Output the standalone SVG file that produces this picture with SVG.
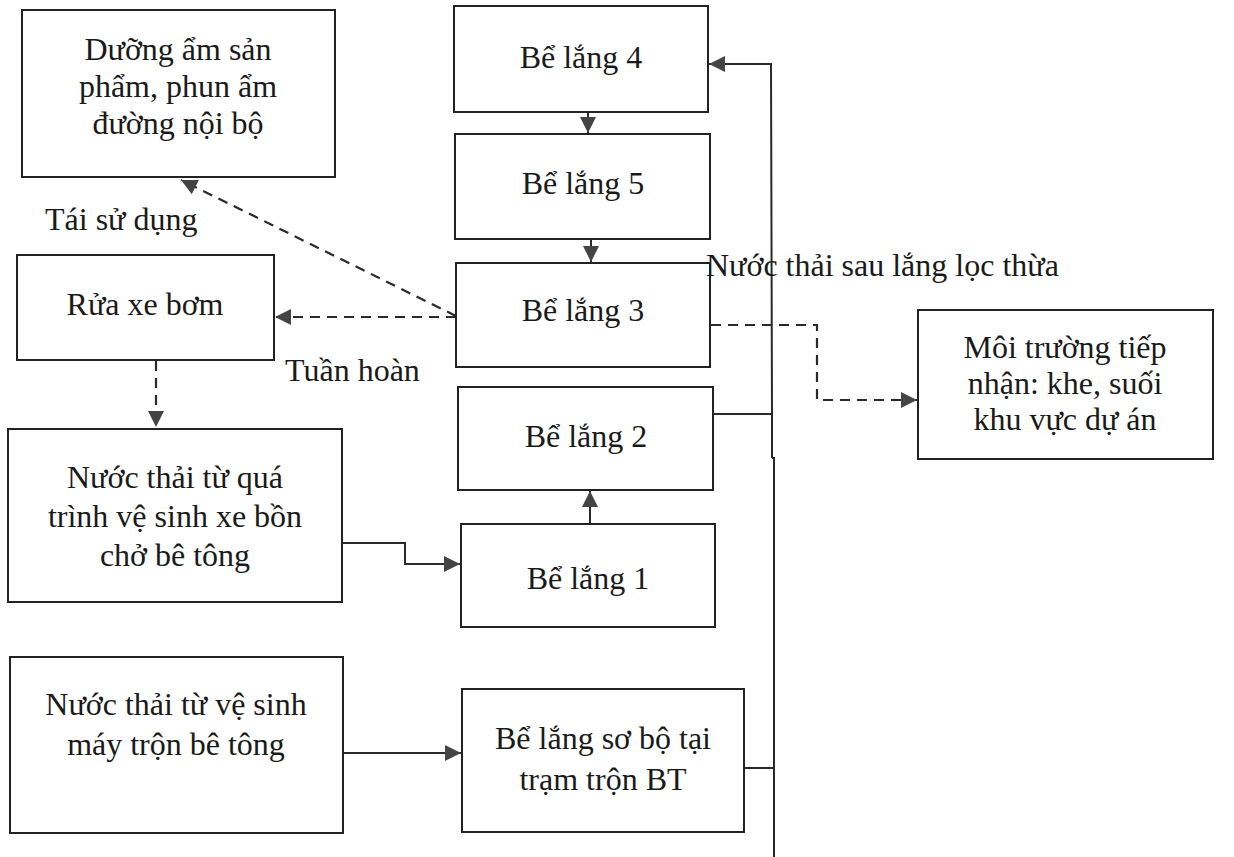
<svg xmlns="http://www.w3.org/2000/svg" width="1234" height="857" viewBox="0 0 1234 857">
<style>
.box{fill:#fff;stroke:#222;stroke-width:2}
.t{font-family:"Liberation Serif","Times New Roman",serif;font-size:32px;fill:#1a1a1a;text-anchor:middle}
.tl{font-family:"Liberation Serif","Times New Roman",serif;font-size:32px;fill:#1a1a1a}
.c{fill:none;stroke:#2a2a2a;stroke-width:2}
.d{fill:none;stroke:#2a2a2a;stroke-width:2.2;stroke-dasharray:10,7}
</style>
<defs>
<marker id="ah" viewBox="0 0 10 10" refX="10" refY="5" markerWidth="16" markerHeight="16" markerUnits="userSpaceOnUse" orient="auto">
<path d="M0,0 L10,5 L0,10 z" fill="#444"/>
</marker>
</defs>
<rect width="1234" height="857" fill="#fff"/>

<g id="connectors">
<line class="c" x1="588" y1="112" x2="588" y2="133" marker-end="url(#ah)"/>
<line class="c" x1="591" y1="239" x2="591" y2="262" marker-end="url(#ah)"/>
<line class="c" x1="590" y1="524" x2="590" y2="491" marker-end="url(#ah)"/>
<polyline class="c" points="342,543 405,543 405,564 460,564" marker-end="url(#ah)"/>
<line class="c" x1="343" y1="753" x2="461" y2="753" marker-end="url(#ah)"/>
<line class="c" x1="713" y1="414" x2="772" y2="414"/>
<line class="c" x1="744" y1="768" x2="774" y2="768"/>
<polyline class="c" points="774,857 774,458 772,458"/>
<polyline class="c" points="772,458 772,414 771,64 709,64" marker-end="url(#ah)"/>
<line class="d" x1="156" y1="361" x2="156" y2="427" marker-end="url(#ah)"/>
<line class="d" x1="456" y1="317" x2="275" y2="317" marker-end="url(#ah)"/>
<line class="d" x1="456" y1="316" x2="181" y2="180" marker-end="url(#ah)"/>
<polyline class="d" points="711,325 817,325 817,400 917,400" marker-end="url(#ah)"/>
</g>

<g id="n-duong-am">
<rect class="box" x="22" y="10" width="313" height="167"/>
<text class="t" x="178" y="60">Dưỡng ẩm sản</text>
<text class="t" x="178" y="97">phẩm, phun ẩm</text>
<text class="t" x="178" y="134">đường nội bộ</text>
</g>

<g id="n-be4">
<rect class="box" x="454" y="6" width="254" height="106"/>
<text class="t" x="581" y="68">Bể lắng 4</text>
</g>
<g id="n-be5">
<rect class="box" x="455" y="134" width="255" height="105"/>
<text class="t" x="583" y="194">Bể lắng 5</text>
</g>
<g id="n-be3">
<rect class="box" x="456" y="263" width="254" height="104"/>
<text class="t" x="583" y="321">Bể lắng 3</text>
</g>
<g id="n-be2">
<rect class="box" x="458" y="387" width="255" height="103"/>
<text class="t" x="586" y="447">Bể lắng 2</text>
</g>
<g id="n-be1">
<rect class="box" x="461" y="524" width="254" height="103"/>
<text class="t" x="588" y="589">Bể lắng 1</text>
</g>

<g id="n-rua-xe">
<rect class="box" x="17" y="255" width="257" height="105"/>
<text class="t" x="145" y="315">Rửa xe bơm</text>
</g>

<g id="n-nuoc-thai-xe">
<rect class="box" x="8" y="429" width="334" height="173"/>
<text class="t" x="175" y="488">Nước thải từ quá</text>
<text class="t" x="175" y="527">trình vệ sinh xe bồn</text>
<text class="t" x="175" y="566">chở bê tông</text>
</g>

<g id="n-nuoc-thai-may">
<rect class="box" x="10" y="657" width="333" height="176"/>
<text class="t" x="176" y="715">Nước thải từ vệ sinh</text>
<text class="t" x="176" y="755">máy trộn bê tông</text>
</g>

<g id="n-be-so-bo">
<rect class="box" x="462" y="689" width="282" height="143"/>
<text class="t" x="603" y="749">Bể lắng sơ bộ tại</text>
<text class="t" x="603" y="790">trạm trộn BT</text>
</g>

<g id="n-moi-truong">
<rect class="box" x="918" y="310" width="295" height="149"/>
<text class="t" x="1065" y="358">Môi trường tiếp</text>
<text class="t" x="1065" y="394">nhận: khe, suối</text>
<text class="t" x="1065" y="430">khu vực dự án</text>
</g>

<g id="labels">
<text class="tl" x="45" y="230">Tái sử dụng</text>
<text class="tl" x="285" y="381">Tuần hoàn</text>
<text class="tl" x="706" y="276">Nước thải sau lắng lọc thừa</text>
</g>
</svg>
